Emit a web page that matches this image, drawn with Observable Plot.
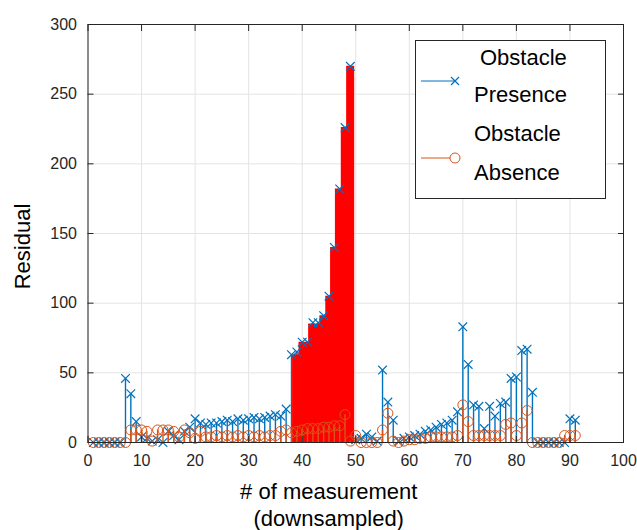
<!DOCTYPE html>
<html><head><meta charset="utf-8">
<script src="https://cdn.jsdelivr.net/npm/d3@7"></script>
<script src="https://cdn.jsdelivr.net/npm/@observablehq/plot@0.6"></script>
<style>
body{margin:0;background:#fff;font-family:"Liberation Sans",Arial,sans-serif;}
#wrap{position:relative;width:637px;height:530px;}
#legend{position:absolute;left:0;top:0;pointer-events:none;}
</style></head><body><div id="wrap"></div>
<script>
// ---- data ----
const measurement = [1,2,3,4,5,6,7,8,9,10,11,12,13,14,15,16,17,18,19,20,21,22,23,24,25,26,27,28,29,30,
  31,32,33,34,35,36,37,38,39,40,41,42,43,44,45,46,47,48,49,50,51,52,53,54,55,56,57,58,59,60,
  61,62,63,64,65,66,67,68,69,70,71,72,73,74,75,76,77,78,79,80,81,82,83,84,85,86,87,88,89,90,91];
const presence = [0,0,0,0,0,0,46,35,15,4, 3,1,2,0,8,5,2,8,11,17,
  14,13,14,14,15,16,15,17,16,17, 18,17,18,19,20,19,24,63,65,72,
  72,86,86,91,105,140,182,226,270,2, 3,6,4,1,52,29,16,1,3,4,
  5,6,8,9,11,13,14,16,22,83, 56,27,26,10,26,19,28,29,46,47,
  66,67,36,0,0,0,0,0,0,17, 16];
const absence = [0,0,0,0,0,0,0,9,9,9, 8,1,9,9,9,8,4,9,7,3,
  8,4,4,5,4,5,4,5,4,5, 4,5,4,5,5,8,9,7,8,9,
  10,10,10,11,11,12,12,20,1,5, 0,0,0,0,9,21,1,0,1,2,
  2,3,3,4,4,4,4,4,5,27, 15,5,5,5,5,5,5,13,14,5,
  14,23,0,0,0,0,0,0,5,5, 5];
// highlighted (red) region, read as a staircase
const highlightX = [38.2, 39.4, 41.2, 43.3, 44.4, 45.3, 46.2, 47.3, 48.3, 49.8];
const highlightY = [63, 72, 85, 91, 105, 140, 182, 226, 270, 270];
const xTicks = [0,10,20,30,40,50,60,70,80,90,100];
const yTicks = [0,50,100,150,200,250,300];
const seriesNames = [["Obstacle","Presence"],["Obstacle","Absence"]];
const xLabel = "# of measurement\n(downsampled)";
const yLabel = "Residual";

const blue = "#0072BD", orange = "#D95319", red = "#FF0000", ink = "#262626";

const presData = measurement.map((x,i)=>({x, v: presence[i]}));
const absData = measurement.map((x,i)=>({x, v: absence[i]}));
const hiData = highlightX.map((x,i)=>({x, v: highlightY[i]}));

const chart = Plot.plot({
  width: 637, height: 530,
  marginLeft: 87.5, marginRight: 14, marginTop: 24, marginBottom: 88,
  x: {domain: [0,100]},
  y: {domain: [0,300]},
  style: {fontFamily: "'Liberation Sans', Arial, sans-serif", fontSize: "16px", color: ink, background: "#fff"},
  marks: [
    Plot.gridX(xTicks, {stroke: "#e3e3e3", strokeOpacity: 1}),
    Plot.gridY(yTicks, {stroke: "#e3e3e3", strokeOpacity: 1}),
    Plot.ruleX(presData, {x: "x", y1: 0, y2: "v", stroke: blue, strokeWidth: 1.4}),
    Plot.areaY(hiData, {x: "x", y: "v", curve: "step-after", fill: red}),
    Plot.dot(presData, {x: "x", y: "v", symbol: "times", r: 4, stroke: blue, strokeWidth: 1.2}),
    Plot.ruleX(absData, {x: "x", y1: 0, y2: "v", stroke: orange, strokeWidth: 1.4}),
    Plot.dot(absData, {x: "x", y: "v", symbol: "circle", r: 5, stroke: orange, fill: "none", strokeWidth: 1}),
    Plot.frame({stroke: ink}),
    Plot.axisX(xTicks, {anchor: "bottom", tickSize: -6, tickPadding: 18, label: null, stroke: ink, fill: ink}),
    Plot.axisX(xTicks, {anchor: "top", tickSize: -6, label: null, stroke: ink, fill: "none"}),
    Plot.axisY(yTicks, {anchor: "left", tickSize: -6, tickPadding: 17, label: null, stroke: ink, fill: ink}),
    Plot.axisY(yTicks, {anchor: "right", tickSize: -6, label: null, stroke: ink, fill: "none"}),
    Plot.text([yLabel], {frameAnchor: "left", textAnchor: "middle", rotate: -90, dx: -65, dy: 13, fontSize: 22, fill: "#000"}),
    Plot.text([xLabel], {frameAnchor: "bottom", textAnchor: "middle", dx: -27, dy: 61, lineAnchor: "middle", lineHeight: 1.23, fontSize: 22, fill: "#000"})
  ]
});
const wrap = document.getElementById("wrap");
wrap.appendChild(chart);

// legend overlay
const svg = d3.select(wrap).append("svg").attr("id","legend").attr("width",637).attr("height",530)
  .style("font-family","'Liberation Sans', Arial, sans-serif");
svg.append("rect").attr("x",415.5).attr("y",40.5).attr("width",190).attr("height",158)
  .attr("fill","#fff").attr("stroke",ink).attr("stroke-width",1);
const rows = [{c: blue, y: 81, t: [57, 94], tx: [480, 474], m: "x"}, {c: orange, y: 158, t: [133, 172], tx: [474, 474], m: "o"}];
rows.forEach((r, i) => {
  svg.append("line").attr("x1",421).attr("x2",456).attr("y1",r.y).attr("y2",r.y).attr("stroke",r.c).attr("stroke-width",1.2);
  if (r.m === "x") {
    svg.append("path").attr("d",`M451,${r.y-4}L459,${r.y+4}M451,${r.y+4}L459,${r.y-4}`).attr("stroke",r.c).attr("stroke-width",1.2);
  } else {
    svg.append("circle").attr("cx",455).attr("cy",r.y).attr("r",5).attr("fill","#fff").attr("stroke",r.c).attr("stroke-width",1);
  }
  seriesNames[i].forEach((s, j) => {
    svg.append("text").attr("x", r.tx[j]).attr("y", r.t[j]).attr("dominant-baseline","central")
      .attr("font-size",22).attr("fill","#000").text(s);
  });
});
</script></body></html>
